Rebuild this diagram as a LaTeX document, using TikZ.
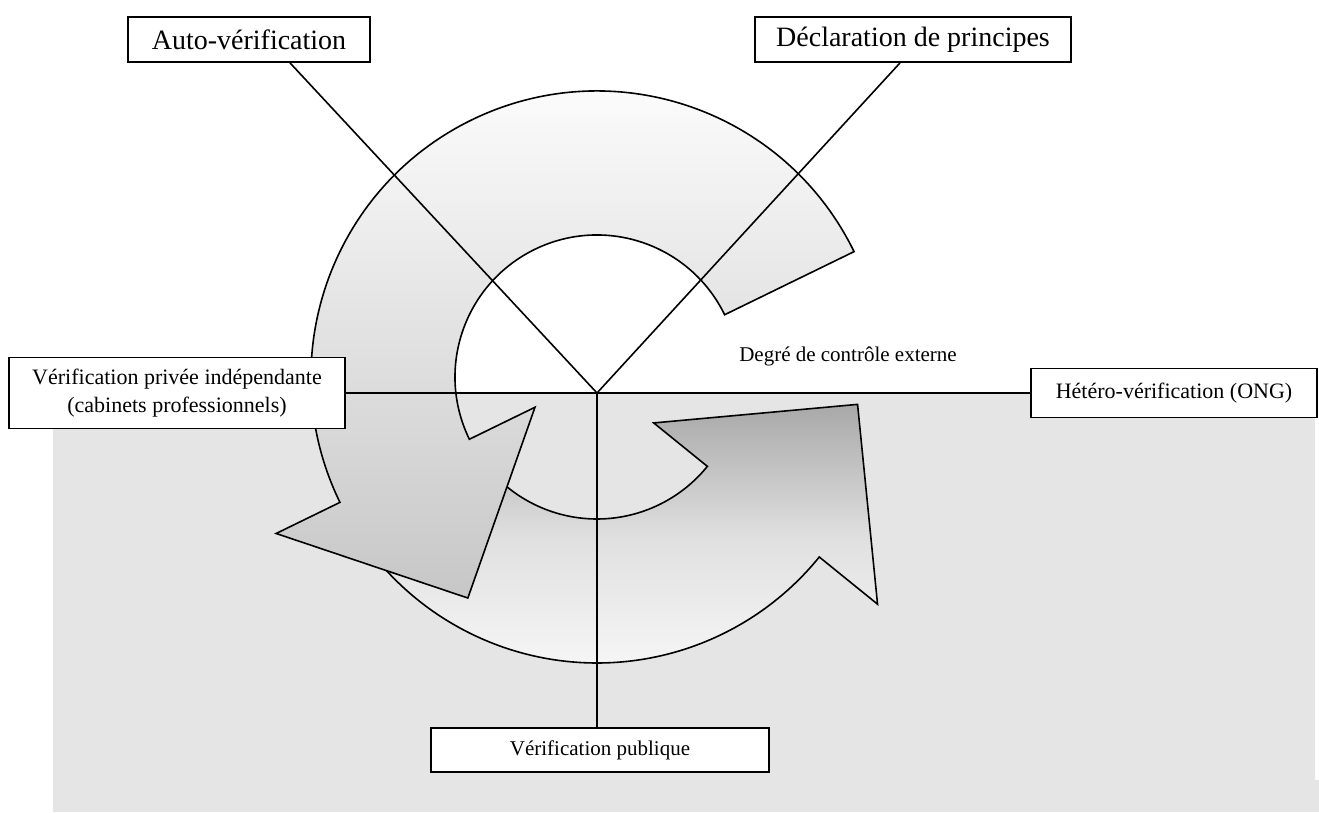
\documentclass[tikz,border=0pt]{standalone}
\usepackage{fontspec}
\setmainfont{Liberation Serif}
\definecolor{fond}{HTML}{E5E5E5}
\begin{document}
\begin{tikzpicture}[x=1pt, y=1pt, line width=1.6pt,
  boite/.style={draw, fill=white, line width=1.8pt, inner sep=0pt, align=center,
    font=\fontsize{22}{28}\selectfont},
  grande/.style={boite, font=\fontsize{28}{32}\selectfont}]
  \useasboundingbox (0,0) rectangle (1319,812);
  \fill[fond] (53,0) -- (1319,0) -- (1319,32) -- (1315,32) -- (1315,419) -- (53,419) -- cycle;

  \def\Rout{286}
  \def\Rin{142}
  \coordinate (C) at (597,435);
  \coordinate (hub) at (597,419);

  % fleche du bas
  \draw[top color=black!34, bottom color=black!3, middle color=black!12]
    ([shift={(218:\Rout)}]C) arc[start angle=218, end angle=321, radius=\Rout]
    -- ([shift={(321:361)}]C) -- ([shift={(354:262)}]C) -- ([shift={(321:73)}]C)
    -- ([shift={(321:\Rin)}]C) arc[start angle=321, end angle=218, radius=\Rin] -- cycle;
  % fleche du haut
  \draw[top color=white, bottom color=black!22]
    ([shift={(26:\Rout)}]C) arc[start angle=26, end angle=206, radius=\Rout]
    -- ([shift={(206:357)}]C) -- ([shift={(239.7:256)}]C) -- ([shift={(206:69)}]C)
    -- ([shift={(206:\Rin)}]C) arc[start angle=206, end angle=26, radius=\Rin] -- cycle;

  \node[grande, minimum width=242pt, minimum height=45pt] (auto) at (249,772.5) {Auto-vérification};
  \node[grande, minimum width=316pt, minimum height=45pt] (decl) at (913,772.5) {Déclaration de principes};
  \node[boite, minimum width=336pt, minimum height=71pt] (privee) at (177,419)
    {Vérification privée indépendante\\(cabinets professionnels)};
  \node[boite, minimum width=286pt, minimum height=49pt] (hetero) at (1174,419) {Hétéro-vérification (ONG)};
  \node[boite, font=\fontsize{21}{25}\selectfont, minimum width=338pt, minimum height=44pt] (publique) at (600,62)
    {Vérification publique};
  \node[font=\fontsize{21}{25}\selectfont] (degre) at (848,456) {Degré de contrôle externe};

  \draw (hub) -- ([xshift=41pt]auto.south);
  \draw (hub) -- ([xshift=-13pt]decl.south);
  \draw (privee.east) -- (hetero.west);
  \draw (hub) -- (hub |- publique.north);
\end{tikzpicture}
\end{document}
